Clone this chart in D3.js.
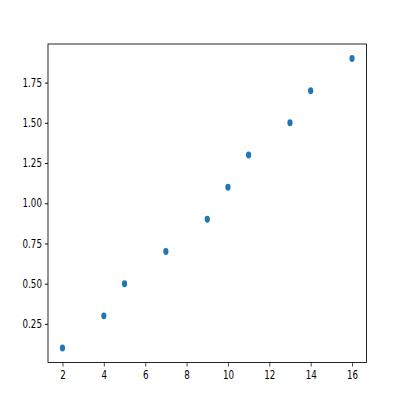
<!DOCTYPE html>
<html><head><meta charset="utf-8">
<script src="https://cdn.jsdelivr.net/npm/d3@7"></script>
<style>body{margin:0;background:#fff}</style>
</head><body>
<svg id="c" width="400" height="400"></svg>
<script>
const xValues = [2, 4, 5, 7, 9, 10, 11, 13, 14, 16];
const yValues = [0.1, 0.3, 0.5, 0.7, 0.9, 1.1, 1.3, 1.5, 1.7, 1.9];
const xTicks = [2, 4, 6, 8, 10, 12, 14, 16];
const yTicks = [0.25, 0.5, 0.75, 1.0, 1.25, 1.5, 1.75];

const L = 48, R = 366.5, T = 44, B = 362.5;
const sx = 0.75; // horizontal squeeze of text
const svg = d3.select("#c");
svg.append("rect").attr("width",400).attr("height",400).attr("fill","#fff");

const x = d3.scaleLinear().domain([1.3, 16.7]).range([L, R]);
const y = d3.scaleLinear().domain([0.01, 1.99]).range([B, T]);

const fs = 11.6;
const gx = svg.append("g").attr("transform",`translate(0,${B})`)
  .call(d3.axisBottom(x).tickValues(xTicks).tickSize(4.05).tickPadding(4.3).tickFormat(d3.format("d")));
gx.select(".domain").remove();
gx.selectAll("line").attr("stroke","#000").attr("stroke-width",0.7);
gx.selectAll("text").attr("font-family","DejaVu Sans").attr("font-size",fs).attr("fill","#000")
  .attr("transform",`scale(${sx},1)`)
  .each(function(d){ d3.select(this).attr("x", 0); });
gx.selectAll(".tick").each(function(d){
  d3.select(this).select("text").attr("transform",`scale(${sx},1)`);
});

const gy = svg.append("g").attr("transform",`translate(${L},0)`)
  .call(d3.axisLeft(y).tickValues(yTicks).tickSize(3.04).tickPadding(3.04).tickFormat(d3.format(".2f")));
gy.select(".domain").remove();
gy.selectAll("line").attr("stroke","#000").attr("stroke-width",0.93);
gy.selectAll("text").attr("font-family","DejaVu Sans").attr("font-size",fs).attr("fill","#000")
  .attr("x", -6.08/sx).attr("transform",`scale(${sx},1)`);

// spines
svg.append("rect").attr("x",L).attr("y",T).attr("width",R-L).attr("height",B-T)
  .attr("fill","none").attr("stroke","#000").attr("stroke-width",0.85);

svg.append("g").selectAll("ellipse").data(xValues.map((v,i)=>[v,yValues[i]])).join("ellipse")
  .attr("cx",d=>x(d[0])).attr("cy",d=>y(d[1])).attr("rx",2.6).attr("ry",3.47)
  .attr("fill","#1f77b4");
</script>
</body></html>
